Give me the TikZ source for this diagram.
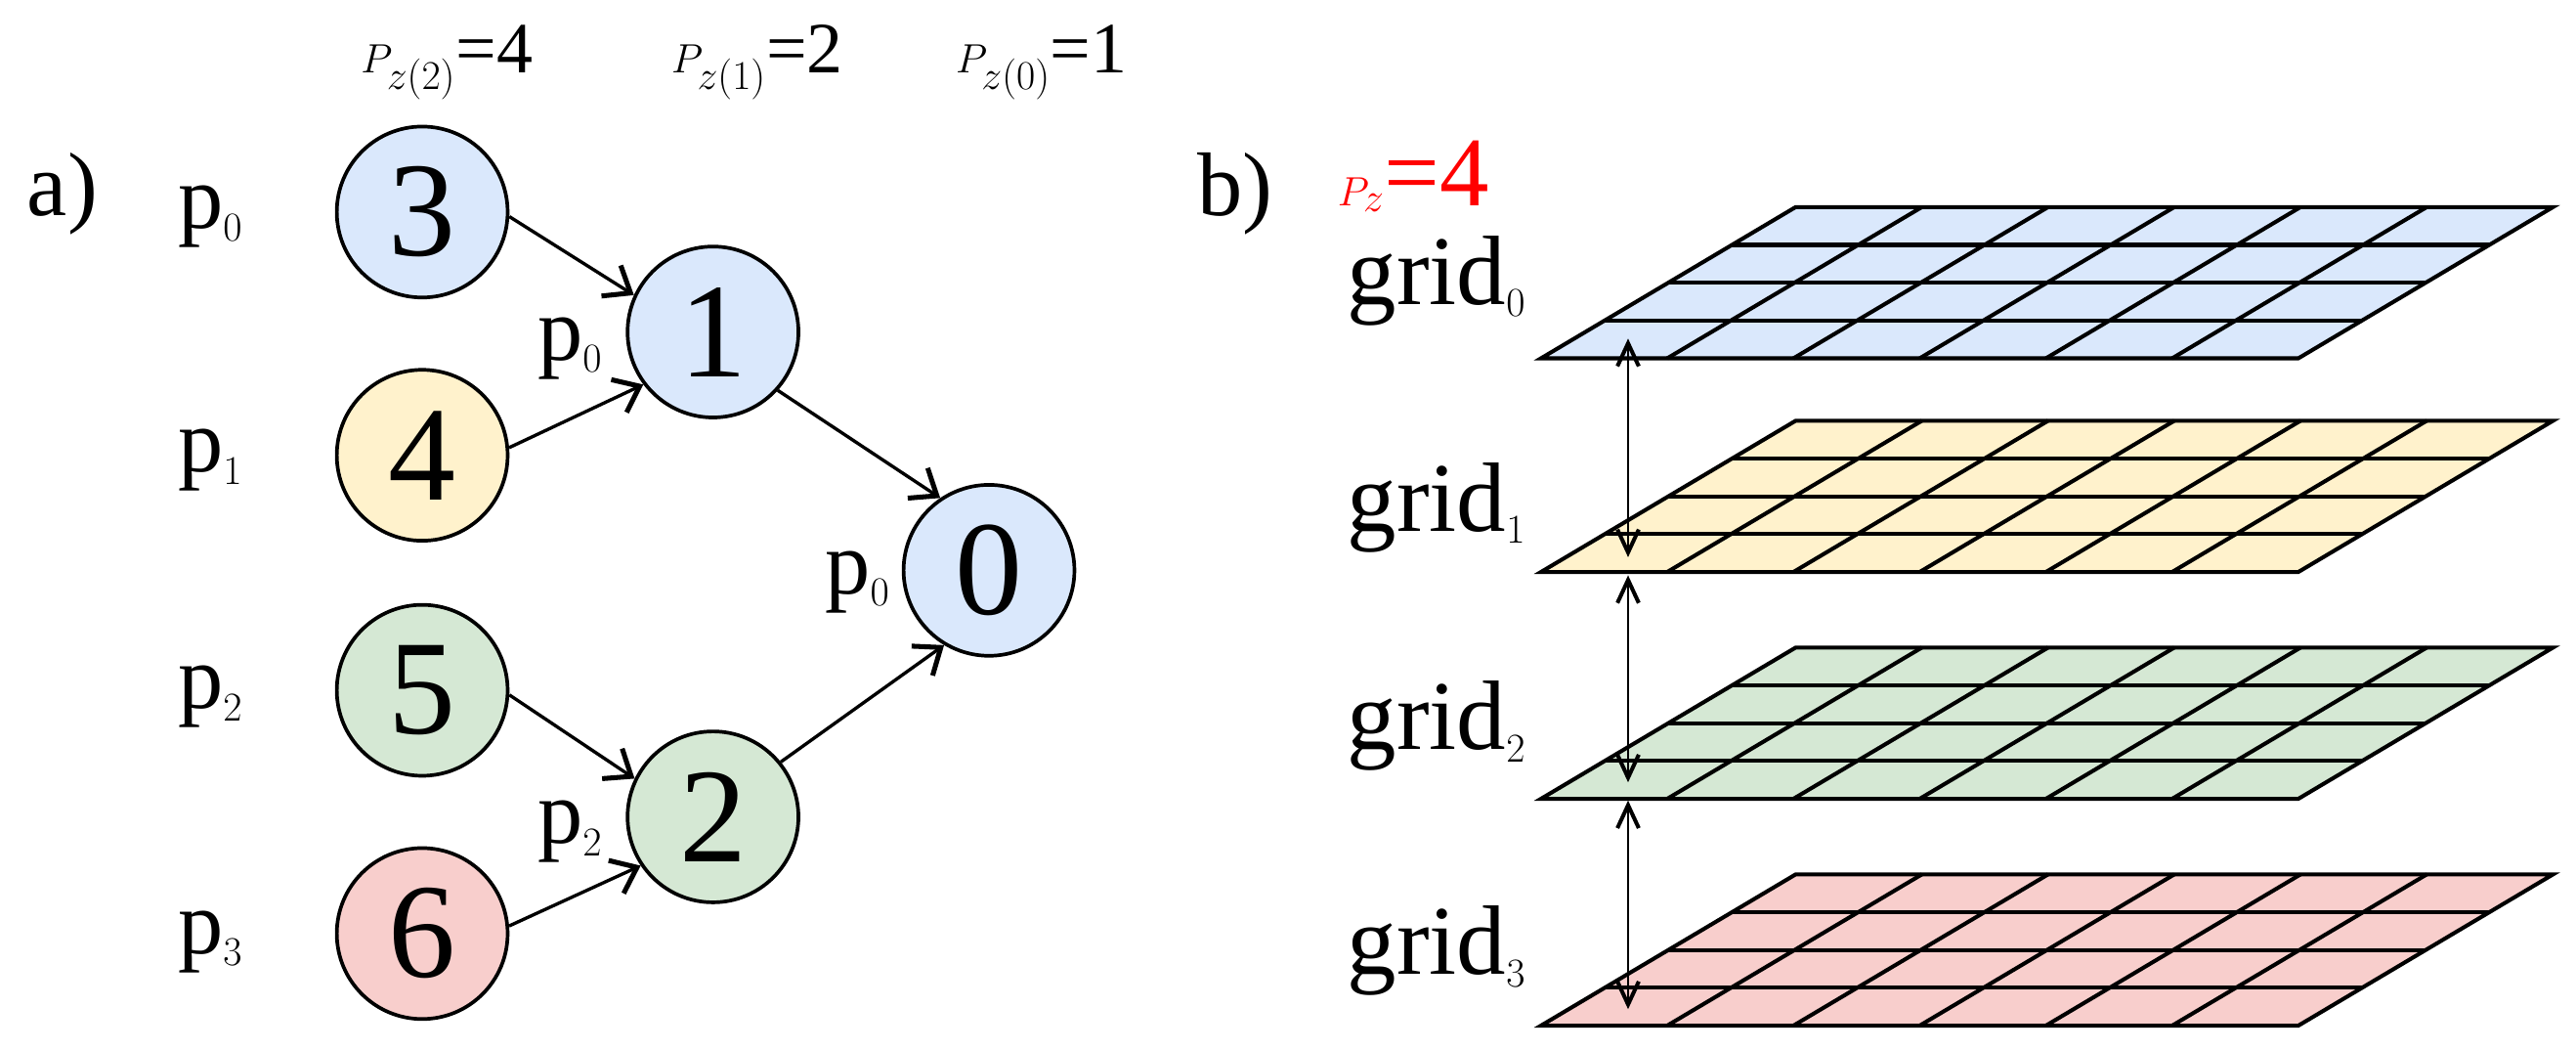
\documentclass[tikz,border=0pt]{standalone}
\usepackage{fontspec}
\setmainfont{Liberation Serif}
\usetikzlibrary{arrows.meta}
\definecolor{cblue}{HTML}{DAE8FC}
\definecolor{cyel}{HTML}{FFF2CC}
\definecolor{cgreen}{HTML}{D5E8D4}
\definecolor{cred}{HTML}{F8CECC}
\begin{document}
\begin{tikzpicture}[x=1pt,y=-1pt,
  circ/.style={circle,draw,line width=2.2pt,minimum size=104pt,inner sep=0pt,font=\fontsize{82}{82}\selectfont},
  lbl/.style={inner sep=0pt,font=\fontsize{55}{55}\selectfont},
  top/.style={inner sep=0pt,font=\fontsize{44}{44}\selectfont},
  glbl/.style={inner sep=0pt,anchor=base west,font=\fontsize{60}{60}\selectfont},
  arr/.style={line width=2pt,-{Straight Barb[length=14pt,width=22pt,line width=3pt]}},
  darr/.style={line width=1.4pt,{Straight Barb[length=14pt,width=13pt,line width=2.4pt]}-{Straight Barb[length=14pt,width=13pt,line width=2.4pt]}},
  gridline/.style={line width=2.4pt,line join=miter}]
\useasboundingbox (0,0) rectangle (1568,639);
% part a
\node[lbl] (a) at (38,118) {a)};
\node[lbl] (l0) at (128,132) {p$_{\fontsize{30}{30}\selectfont 0}$};
\node[lbl] (l1) at (128,280) {p$_{\fontsize{30}{30}\selectfont 1}$};
\node[lbl] (l2) at (128,424) {p$_{\fontsize{30}{30}\selectfont 2}$};
\node[lbl] (l3) at (128,573) {p$_{\fontsize{30}{30}\selectfont 3}$};
\node[top] (t2) at (272,38) {$P_{\fontsize{26}{26}\selectfont z(2)}$=4};
\node[top] (t1) at (461,38) {$P_{\fontsize{26}{26}\selectfont z(1)}$=2};
\node[top] (t0) at (634,38) {$P_{\fontsize{26}{26}\selectfont z(0)}$=1};
\node[circ,fill=cblue] (c3) at (257,129) {3};
\node[circ,fill=cyel] (c4) at (257,277) {4};
\node[circ,fill=cgreen] (c5) at (257,420) {5};
\node[circ,fill=cred] (c6) at (257,568) {6};
\node[circ,fill=cblue] (c1) at (434,202) {1};
\node[circ,fill=cgreen] (c2) at (434,497) {2};
\node[circ,fill=cblue] (c0) at (602,347) {0};
\node[lbl] (i1) at (347,212) {p$_{\fontsize{30}{30}\selectfont 0}$};
\node[lbl] (i0) at (522,354) {p$_{\fontsize{30}{30}\selectfont 0}$};
\node[lbl] (i2) at (347,506) {p$_{\fontsize{30}{30}\selectfont 2}$};
\draw[arr] (c3.-3) -- (c1.155);
\draw[arr] (c4.5) -- (c1.217);
\draw[arr] (c1.-42) -- (c0.124);
\draw[arr] (c2.39) -- (c0.239);
\draw[arr] (c5.-3) -- (c2.154);
\draw[arr] (c6.5) -- (c2.214);
% part b
\node[lbl] (b) at (752,118) {b)};
\node[inner sep=0pt,anchor=base west,text=red,font=\fontsize{60}{60}\selectfont] (pz) at (814,125) {$P_{\fontsize{30}{30}\selectfont z}$=4};
\foreach \b/\c/\n in {218/cblue/0,348/cyel/1,486/cgreen/2,624/cred/3}{
  \fill[\c] (938,\b) -- (1399,\b) -- (1554,\b-92) -- (1093,\b-92) -- cycle;
  \foreach \i in {1,2,3}{
    \draw[gridline] ({938+155*\i/4},{\b-23*\i}) -- ({1399+155*\i/4},{\b-23*\i});
  }
  \foreach \j in {1,...,5}{
    \draw[gridline] ({938+461*\j/6},\b) -- ({1093+461*\j/6},{\b-92});
  }
  \draw[gridline] (938,\b) -- (1399,\b) -- (1554,\b-92) -- (1093,\b-92) -- cycle;
}
\node[glbl] (g0) at (820,185) {grid$_{\fontsize{30}{30}\selectfont 0}$};
\node[glbl] (g1) at (820,323) {grid$_{\fontsize{30}{30}\selectfont 1}$};
\node[glbl] (g2) at (820,456) {grid$_{\fontsize{30}{30}\selectfont 2}$};
\node[glbl] (g3) at (820,593) {grid$_{\fontsize{30}{30}\selectfont 3}$};
\coordinate (a0) at (991,206);
\coordinate (a1) at (991,339);
\coordinate (a2) at (991,350);
\coordinate (a3) at (991,476);
\coordinate (a4) at (991,487);
\coordinate (a5) at (991,614);
\draw[darr] (a0) -- (a1);
\draw[darr] (a2) -- (a3);
\draw[darr] (a4) -- (a5);
\end{tikzpicture}
\end{document}
